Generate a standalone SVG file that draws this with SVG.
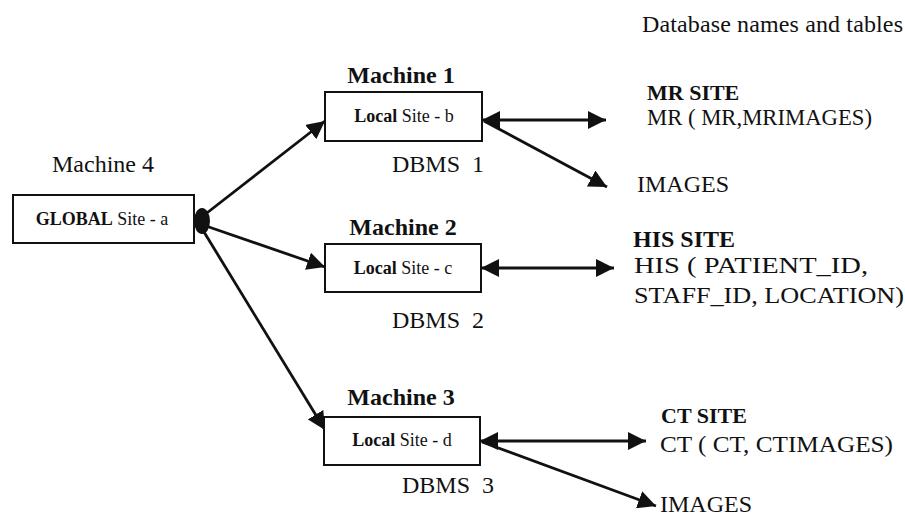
<svg xmlns="http://www.w3.org/2000/svg" width="905" height="518" viewBox="0 0 905 518" font-family="'Liberation Serif', 'Times New Roman', Times, serif">
  <style>
    text { font-family: "Liberation Serif", "Times New Roman", Times, serif; fill: #111; }
    .lbl { font-size: 24px; font-weight: normal; }
    .mach { font-size: 24px; font-weight: bold; }
    .site { font-size: 18px; font-weight: normal; }
    .b { font-weight: bold; }
    .box { fill: #fff; stroke: #111; stroke-width: 2; }
    .conn line { stroke: #111; stroke-width: 2.8; }
  </style>
  <defs>
    <marker id="head" markerUnits="userSpaceOnUse" markerWidth="20" markerHeight="18" refX="18" refY="9" orient="auto-start-reverse">
      <path d="M0,0 L18,9 L0,18 z" fill="#111"/>
    </marker>
  </defs>

  <rect width="905" height="518" fill="#fff"/>

  <text class="lbl" x="642" y="32" textLength="261" lengthAdjust="spacing">Database names and tables</text>

  <!-- connectors -->
  <g class="conn" id="connectors">
    <line x1="203" y1="216" x2="325" y2="121" marker-end="url(#head)"/>
    <line x1="206" y1="226" x2="325" y2="267" marker-end="url(#head)"/>
    <line x1="204" y1="232" x2="325" y2="430" marker-end="url(#head)"/>
    <line x1="482" y1="120" x2="606" y2="120" marker-start="url(#head)" marker-end="url(#head)"/>
    <line x1="484" y1="121" x2="607" y2="187" marker-end="url(#head)"/>
    <line x1="481" y1="268" x2="614" y2="268" marker-start="url(#head)" marker-end="url(#head)"/>
    <line x1="480" y1="441" x2="646" y2="441" marker-start="url(#head)" marker-end="url(#head)"/>
    <line x1="482" y1="442" x2="656" y2="506" marker-end="url(#head)"/>
    <ellipse cx="202" cy="221" rx="8" ry="13" fill="#111"/>
  </g>

  <!-- global site -->
  <g id="machine4">
    <text class="lbl" x="52" y="172">Machine 4</text>
    <rect class="box" x="13" y="195" width="181" height="48"/>
    <text class="site" x="102" y="225" text-anchor="middle"><tspan class="b">GLOBAL</tspan> Site - a</text>
  </g>

  <!-- local sites -->
  <g id="machine1">
    <text class="mach" x="401" y="83" text-anchor="middle">Machine 1</text>
    <rect class="box" x="325" y="92" width="157" height="49"/>
    <text class="site" x="404" y="122" text-anchor="middle"><tspan class="b">Local</tspan> Site - b</text>
    <text class="lbl" x="392" y="172" xml:space="preserve">DBMS  1</text>
  </g>

  <g id="machine2">
    <text class="mach" x="403" y="235" text-anchor="middle">Machine 2</text>
    <rect class="box" x="325" y="244" width="156" height="48"/>
    <text class="site" x="403" y="274" text-anchor="middle"><tspan class="b">Local</tspan> Site - c</text>
    <text class="lbl" x="392" y="328" xml:space="preserve">DBMS  2</text>
  </g>

  <g id="machine3">
    <text class="mach" x="401" y="405" text-anchor="middle">Machine 3</text>
    <rect class="box" x="324" y="417" width="156" height="48"/>
    <text class="site" x="402" y="446" text-anchor="middle"><tspan class="b">Local</tspan> Site - d</text>
    <text class="lbl" x="402" y="493" xml:space="preserve">DBMS  3</text>
  </g>

  <!-- databases -->
  <g id="mr-site">
    <text class="lbl b" x="647" y="100" style="font-size:22px">MR SITE</text>
    <text class="lbl" x="647" y="125" textLength="225" lengthAdjust="spacingAndGlyphs">MR ( MR,MRIMAGES)</text>
  </g>
  <g id="mr-images">
    <text class="lbl" x="637" y="192">IMAGES</text>
  </g>

  <g id="his-site">
    <text class="lbl b" x="633" y="247">HIS SITE</text>
    <text class="lbl" x="634" y="273" textLength="234" lengthAdjust="spacingAndGlyphs">HIS ( PATIENT_ID,</text>
    <text class="lbl" x="634" y="303" textLength="270" lengthAdjust="spacingAndGlyphs">STAFF_ID, LOCATION)</text>
  </g>

  <g id="ct-site">
    <text class="lbl b" x="661" y="423" style="font-size:22px">CT SITE</text>
    <text class="lbl" x="660" y="452" textLength="233" lengthAdjust="spacingAndGlyphs">CT ( CT, CTIMAGES)</text>
  </g>
  <g id="ct-images">
    <text class="lbl" x="660" y="512">IMAGES</text>
  </g>
</svg>
